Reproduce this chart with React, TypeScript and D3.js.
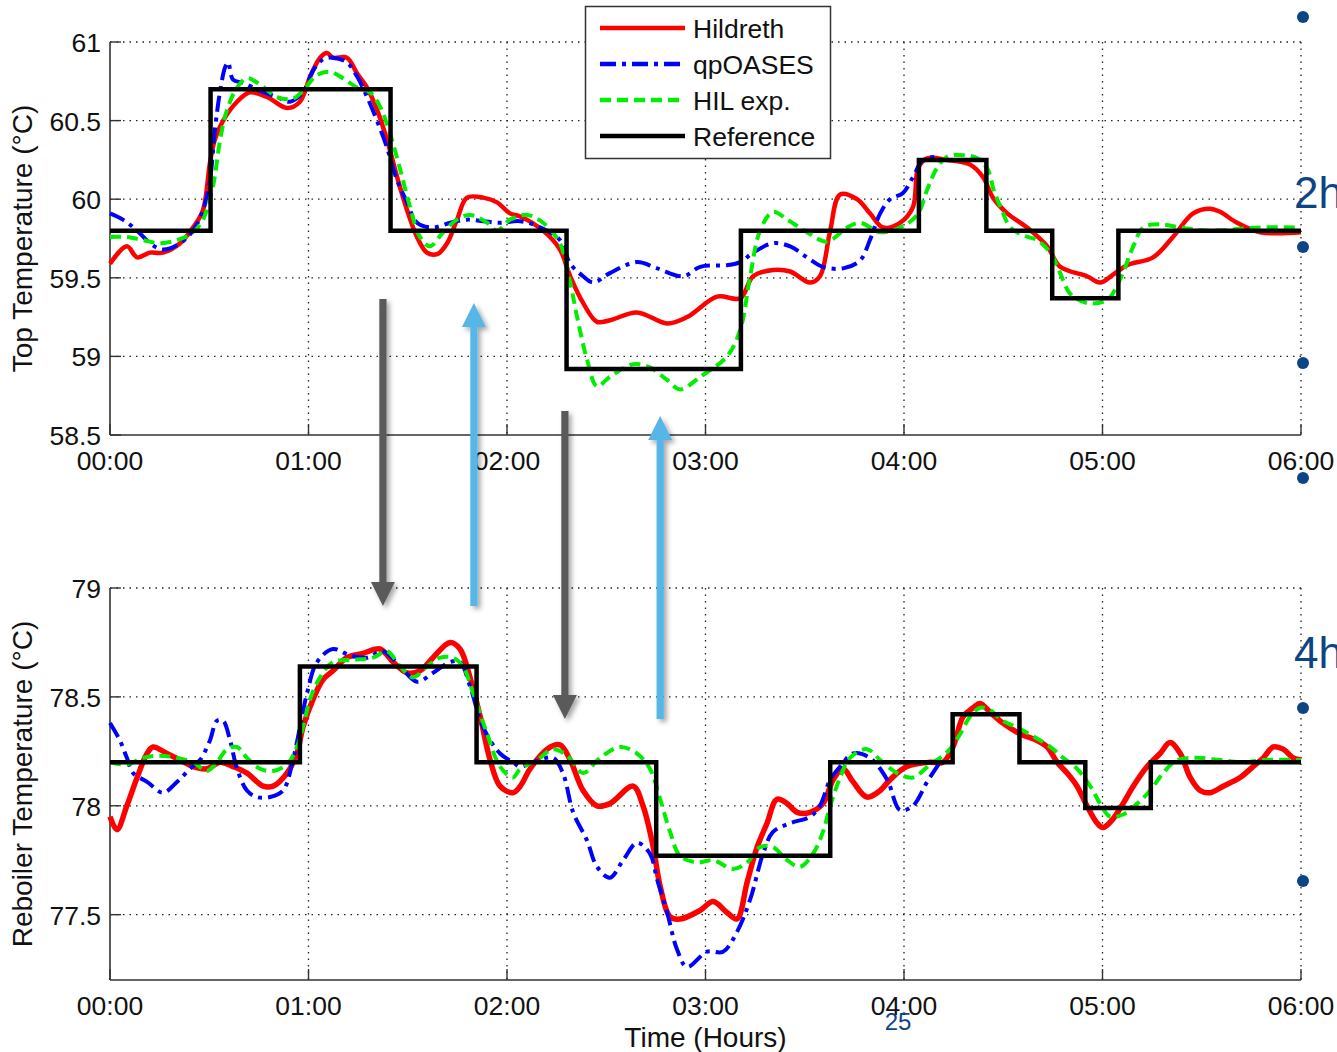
import React from 'react';
import * as d3 from 'd3';

// ---- data (time in minutes since 00:00, temperature in °C) ----
const hourTicks = [0, 60, 120, 180, 240, 300, 360];
const hourLabels = ['00:00', '01:00', '02:00', '03:00', '04:00', '05:00', '06:00'];
const topTicks = [58.5, 59, 59.5, 60, 60.5, 61];
const topTickLabels = ['58.5', '59', '59.5', '60', '60.5', '61'];
const bottomTicks = [77.5, 78, 78.5, 79];
const bottomTickLabels = ['77.5', '78', '78.5', '79'];

const seriesNames = ['Hildreth', 'qpOASES', 'HIL exp.', 'Reference'];

// Set-point steps: change times and the level held from each time on
const topRefTimes = [0, 30.4, 84.8, 138, 190.7, 244.5, 264.9, 284.8, 304.8, 360];
const topRefLevels = [59.8, 60.7, 59.8, 58.92, 59.8, 60.25, 59.8, 59.37, 59.8, 59.8];
const bottomRefTimes = [0, 57.4, 110.8, 165.1, 217.7, 254.7, 274.9, 294.8, 314.6, 360];
const bottomRefLevels = [78.2, 78.64, 78.2, 77.77, 78.2, 78.42, 78.2, 77.99, 78.2, 78.2];

type Pt = [number, number];

const topHildreth: Pt[] = [
  [0, 59.59], [5.1, 59.7], [8.2, 59.63], [12.1, 59.66], [16, 59.66], [21.2, 59.72], [25.1, 59.82],
  [28.1, 59.93], [30.2, 60.23], [31.7, 60.38], [34.2, 60.5], [38.4, 60.62], [42.3, 60.68], [47.5, 60.65],
  [53.5, 60.58], [57.4, 60.62], [60.5, 60.78], [63.5, 60.9], [65.6, 60.93], [67.4, 60.9], [71.6, 60.9],
  [74.7, 60.8], [77.7, 60.71], [80.7, 60.57], [83.7, 60.38], [86.8, 60.14], [89.8, 59.93], [92.8, 59.76],
  [95.8, 59.66], [98.9, 59.65], [101.9, 59.72], [104.9, 59.87], [107.9, 60.01], [112.8, 60.01],
  [117, 59.98], [120.9, 59.91], [124, 59.89], [130.9, 59.8], [136, 59.68], [139.1, 59.51], [143, 59.34],
  [147.2, 59.22], [151.1, 59.23], [159.3, 59.28], [168.4, 59.21], [174.4, 59.25], [183.5, 59.38],
  [190.5, 59.37], [194.4, 59.51], [200.4, 59.55], [205.6, 59.54], [211.6, 59.47], [214.6, 59.51],
  [217.6, 59.79], [220.7, 60.03], [225.8, 60.0], [229.7, 59.91], [233.7, 59.82], [238.8, 59.85],
  [242.7, 59.95], [244.3, 60.2], [247, 60.26], [253, 60.25], [260, 60.22], [263.9, 60.14], [266.9, 60.01],
  [271.2, 59.91], [277.2, 59.82], [283.3, 59.7], [287.2, 59.57], [295.3, 59.51], [299.3, 59.47],
  [303.2, 59.52], [307.4, 59.58], [315.3, 59.63], [321.3, 59.76], [327.4, 59.91], [332.5, 59.94],
  [335.5, 59.92], [340.7, 59.85], [347.6, 59.79], [360, 59.79],
];

const topQpOases: Pt[] = [
  [0, 59.91], [3.9, 59.87], [8.2, 59.8], [12.1, 59.72], [16, 59.68], [21.2, 59.72], [25.1, 59.8],
  [28.1, 59.93], [30.2, 60.12], [31.7, 60.44], [33.3, 60.69], [34.8, 60.84], [35.7, 60.87], [37.2, 60.76],
  [40.2, 60.74], [45.3, 60.69], [50.5, 60.65], [54.4, 60.62], [58.3, 60.68], [61.4, 60.82], [64.4, 60.89],
  [67.4, 60.9], [71.6, 60.87], [74.7, 60.78], [77.7, 60.65], [80.7, 60.5], [83.7, 60.33], [86.8, 60.12],
  [89.8, 59.98], [92.8, 59.85], [97.6, 59.82], [102.8, 59.85], [107.9, 59.87], [112.8, 59.86],
  [117.9, 59.85], [124, 59.86], [130.1, 59.82], [136, 59.74], [139.1, 59.59], [143, 59.51], [146.1, 59.47],
  [151.1, 59.53], [159.3, 59.6], [165.4, 59.56], [173.3, 59.51], [178.4, 59.57], [186.5, 59.58],
  [190.5, 59.6], [194.4, 59.66], [200.4, 59.72], [205.6, 59.7], [210.7, 59.63], [215.5, 59.57],
  [221.6, 59.56], [226.7, 59.61], [229.7, 59.74], [232.8, 59.91], [235.8, 60.0], [239.7, 60.04],
  [242.7, 60.14], [245.8, 60.25], [250, 60.27],
];

const topHil: Pt[] = [
  [0, 59.76], [5.1, 59.76], [10, 59.74], [15.1, 59.72], [20.3, 59.74], [25.1, 59.79], [28.1, 59.87],
  [31.1, 60.08], [33.3, 60.38], [35.4, 60.57], [38.4, 60.71], [41.4, 60.77], [45.3, 60.73], [50.5, 60.65],
  [55.3, 60.64], [58.3, 60.69], [62.6, 60.79], [66.5, 60.81], [70.4, 60.77], [74.7, 60.71], [78.6, 60.68],
  [81.6, 60.59], [84.6, 60.42], [87.7, 60.19], [90.7, 59.95], [93.7, 59.76], [96.7, 59.7], [100.7, 59.79],
  [104.9, 59.87], [108.8, 59.9], [114, 59.85], [117, 59.8], [120.9, 59.87], [126.1, 59.9], [130.9, 59.85],
  [136, 59.72], [139.1, 59.47], [141.2, 59.25], [144.2, 58.98], [147.2, 58.81], [151.1, 58.87],
  [158.1, 58.95], [163.2, 58.93], [168.4, 58.85], [172.3, 58.79], [178.4, 58.87], [186.5, 59.0],
  [190.5, 59.17], [193.5, 59.51], [196.5, 59.8], [200.4, 59.92], [204.7, 59.87], [210.7, 59.79],
  [216.7, 59.73], [222.8, 59.82], [226.7, 59.85], [232.8, 59.79], [238.8, 59.82], [244, 59.9],
  [247, 60.06], [250, 60.2], [253, 60.27], [258, 60.28], [262.2, 60.26], [265.3, 60.19], [267.1, 60.06],
  [269.2, 59.95], [272.2, 59.82], [276, 59.77], [280.2, 59.74], [284.2, 59.66], [287.2, 59.53],
  [290.2, 59.4], [295.3, 59.34], [301.4, 59.36], [305.3, 59.49], [309.3, 59.7], [312.3, 59.82],
  [317.4, 59.84], [323.5, 59.82], [331.6, 59.8], [347.6, 59.82], [360, 59.82],
];

const bottomHildreth: Pt[] = [
  [0, 77.95], [2.1, 77.89], [5.1, 78.0], [8.2, 78.13], [11.2, 78.24], [13, 78.27], [17.2, 78.24],
  [21.2, 78.21], [25.1, 78.18], [29.3, 78.17], [33.3, 78.2], [37.2, 78.18], [41.4, 78.15], [46.3, 78.09],
  [49.3, 78.09], [53.5, 78.15], [56.5, 78.24], [58.3, 78.36], [61.4, 78.49], [64.4, 78.58], [67.4, 78.62],
  [71.6, 78.68], [76.5, 78.7], [81.6, 78.72], [85.6, 78.66], [89.8, 78.61], [93.7, 78.62], [97.6, 78.68],
  [102.8, 78.75], [105.8, 78.72], [108.8, 78.59], [111.9, 78.41], [114.9, 78.21], [117.9, 78.09],
  [121.8, 78.06], [124, 78.09], [127, 78.17], [132.1, 78.26], [136, 78.28], [139.1, 78.21], [143, 78.07],
  [147.2, 78.0], [151.1, 78.01], [158.1, 78.09], [161.1, 78.0], [164.2, 77.81], [166.3, 77.63],
  [169.3, 77.49], [172.3, 77.48], [178.4, 77.52], [182.3, 77.56], [186.5, 77.51], [189.5, 77.48],
  [192.6, 77.65], [195.6, 77.81], [198.6, 77.92], [201.6, 78.03], [204.7, 78.01], [207.7, 77.97],
  [211.6, 77.97], [215.5, 78.01], [218.6, 78.12], [221.6, 78.17], [224.6, 78.11], [228.8, 78.04],
  [232.8, 78.07], [235.8, 78.12], [240.9, 78.18], [247.9, 78.2], [251.8, 78.2], [254.8, 78.27],
  [257.9, 78.41], [260.9, 78.45], [263, 78.47], [266, 78.43], [269.9, 78.38], [275.1, 78.33],
  [280.2, 78.3], [283.3, 78.27], [286.3, 78.2], [289.3, 78.15], [292.3, 78.09], [295.3, 78.0],
  [298.4, 77.92], [300.2, 77.9], [303.2, 77.94], [306.2, 78.01], [309.3, 78.09], [313.5, 78.18],
  [317.4, 78.24], [320.4, 78.29], [323.5, 78.24], [326.5, 78.13], [329.5, 78.07], [332.5, 78.06],
  [336.5, 78.09], [341.6, 78.13], [345.5, 78.18], [348.6, 78.22], [351.6, 78.27], [354.6, 78.26],
  [357.6, 78.22], [360, 78.21],
];

const bottomQpOases: Pt[] = [
  [0, 78.38], [3, 78.3], [5.1, 78.22], [7, 78.15], [11.2, 78.11], [16, 78.06], [20.3, 78.11],
  [24.2, 78.17], [27.2, 78.21], [30.2, 78.3], [32.3, 78.39], [34.2, 78.39], [36.3, 78.3], [38.4, 78.17],
  [41.4, 78.07], [44.4, 78.04], [48.4, 78.04], [52.3, 78.07], [55.3, 78.21], [57.4, 78.36], [59.6, 78.52],
  [62.6, 78.66], [67.4, 78.72], [72.6, 78.69], [77.7, 78.68], [82.5, 78.71], [87.7, 78.64], [92.8, 78.57],
  [97.6, 78.61], [102.8, 78.66], [105.8, 78.66], [108.8, 78.55], [112.8, 78.36], [117.9, 78.24],
  [121.8, 78.2], [124, 78.18], [127.9, 78.2], [133.9, 78.22], [136.9, 78.15], [140, 77.97], [144.2, 77.84],
  [147.2, 77.72], [151.1, 77.67], [155.1, 77.75], [159.3, 77.83], [163.2, 77.78], [165.4, 77.66],
  [168.4, 77.51], [171.4, 77.34], [174.4, 77.26], [180.5, 77.33], [185.3, 77.33], [189.5, 77.42],
  [193.5, 77.57], [197.4, 77.78], [200.4, 77.88], [205.6, 77.92], [211.6, 77.95], [214.6, 78.0],
  [217.7, 78.12], [220.7, 78.18], [224.6, 78.24], [229.7, 78.22], [234.9, 78.12], [238.8, 77.98],
  [242.7, 78.0], [247, 78.11], [250.9, 78.2],
];

const bottomHil: Pt[] = [
  [0, 78.2], [5.1, 78.19], [10, 78.22], [15.1, 78.23], [20.3, 78.22], [25.1, 78.2], [29.3, 78.16],
  [32.3, 78.2], [35.4, 78.26], [38.4, 78.27], [41.4, 78.22], [45.3, 78.17], [49.3, 78.16], [53.5, 78.19],
  [56.5, 78.27], [58.3, 78.36], [60.5, 78.49], [63.5, 78.59], [67.4, 78.66], [73.5, 78.67], [79.5, 78.68],
  [83.7, 78.71], [87.7, 78.64], [91.6, 78.59], [95.8, 78.64], [99.8, 78.68], [103.7, 78.68],
  [106.7, 78.64], [109.7, 78.52], [114, 78.33], [117.9, 78.18], [121.8, 78.13], [124, 78.17],
  [129.1, 78.21], [133.9, 78.26], [138.2, 78.23], [143, 78.15], [148.1, 78.22], [154.2, 78.27],
  [159.3, 78.24], [163.2, 78.17], [166.3, 78.03], [169.3, 77.88], [172.3, 77.77], [177.5, 77.74],
  [182.3, 77.75], [188.3, 77.71], [192.6, 77.74], [196.5, 77.81], [200.4, 77.81], [204.7, 77.75],
  [208.6, 77.72], [212.5, 77.78], [215.5, 77.88], [217.7, 78.0], [220.7, 78.13], [223.7, 78.22],
  [228.8, 78.26], [232.8, 78.21], [237.9, 78.15], [242.7, 78.13], [247.9, 78.19], [250.9, 78.22],
  [253.9, 78.26], [257, 78.33], [260, 78.41], [263, 78.45], [266, 78.44], [269.9, 78.39], [274.2, 78.36],
  [279, 78.32], [284.2, 78.27], [288.1, 78.22], [292.3, 78.17], [296.3, 78.09], [299.3, 78.01],
  [302.3, 77.95], [306.2, 77.96], [310.5, 78.01], [314.4, 78.07], [318.3, 78.15], [322.6, 78.21],
  [328.6, 78.22], [335.6, 78.21], [342.5, 78.2], [348.6, 78.21], [360, 78.21],
];

// ---- layout ----
const W = 1337;
const H = 1052;
const X0 = 110;
const X1 = 1301;
const FONT = "'Liberation Sans', Arial, Helvetica, sans-serif";
const NAVY = '#0d4584';
const TICK_FONT = 26.5;
const TITLE_FONT = 28;

const colors = { hildreth: '#ff0000', qp: '#0000ff', hil: '#00ee00', ref: '#000000' };
const dashQp = '16,6,4,6';
const dashHil = '11,6';

const x = d3.scaleLinear().domain([0, 360]).range([X0, X1]);

type PanelProps = {
  yDomain: [number, number];
  yRange: [number, number];
  ticks: number[];
  tickLabels: string[];
  title: string;
  hildreth: Pt[];
  qp: Pt[];
  hil: Pt[];
  refTimes: number[];
  refLevels: number[];
  redWidth: number;
};

function Panel(p: PanelProps) {
  const y = d3.scaleLinear().domain(p.yDomain).range(p.yRange);
  const [yBottom, yTop] = p.yRange;
  const line = d3
    .line<Pt>()
    .x((d) => x(d[0]))
    .y((d) => y(d[1]))
    .curve(d3.curveCatmullRom.alpha(0.5));
  const step = d3
    .line<Pt>()
    .x((d) => x(d[0]))
    .y((d) => y(d[1]))
    .curve(d3.curveStepAfter);
  const refPts: Pt[] = p.refTimes.map((t, i) => [t, p.refLevels[i]]);
  const titleY = (yBottom + yTop) / 2;

  return (
    <g>
      {/* dotted grid */}
      {p.ticks
        .filter((t) => y(t) < yBottom - 1)
        .map((t) => (
          <line key={'gy' + t} x1={X0} x2={X1} y1={y(t)} y2={y(t)} stroke="#222" strokeWidth={1.3} strokeDasharray="1.5,5" />
        ))}
      {hourTicks
        .filter((t) => t > 0)
        .map((t) => (
          <line key={'gx' + t} x1={x(t)} x2={x(t)} y1={yTop} y2={yBottom} stroke="#222" strokeWidth={1.3} strokeDasharray="1.5,5" />
        ))}

      {/* axes */}
      <line x1={X0} x2={X0} y1={yTop} y2={yBottom} stroke="#333" strokeWidth={1.6} />
      <line x1={X0} x2={X1} y1={yBottom} y2={yBottom} stroke="#333" strokeWidth={1.6} />
      {p.ticks.map((t) => (
        <line key={'ty' + t} x1={X0} x2={X0 + 11} y1={y(t)} y2={y(t)} stroke="#333" strokeWidth={1.4} />
      ))}
      {hourTicks.map((t) => (
        <line key={'tx' + t} x1={x(t)} x2={x(t)} y1={yBottom} y2={yBottom - 11} stroke="#333" strokeWidth={1.4} />
      ))}
      {p.ticks.map((t, i) => (
        <text key={'ly' + t} x={X0 - 9} y={y(t) + 10} textAnchor="end" fontSize={TICK_FONT} fontFamily={FONT} fill="#111">
          {p.tickLabels[i]}
        </text>
      ))}
      {hourTicks.map((t, i) => (
        <text key={'lx' + t} x={x(t)} y={yBottom + 35} textAnchor="middle" fontSize={TICK_FONT} fontFamily={FONT} fill="#111">
          {hourLabels[i]}
        </text>
      ))}
      <text
        transform={`translate(32,${titleY}) rotate(-90)`}
        textAnchor="middle"
        fontSize={TITLE_FONT}
        fontFamily={FONT}
        fill="#111"
      >
        {p.title}
      </text>

      {/* series */}
      <path d={line(p.hildreth) || ''} fill="none" stroke={colors.hildreth} strokeWidth={p.redWidth} strokeLinejoin="round" />
      <path d={line(p.qp) || ''} fill="none" stroke={colors.qp} strokeWidth={4} strokeDasharray={dashQp} />
      <path d={line(p.hil) || ''} fill="none" stroke={colors.hil} strokeWidth={4} strokeDasharray={dashHil} />
      <path d={step(refPts) || ''} fill="none" stroke={colors.ref} strokeWidth={4.5} strokeLinejoin="miter" />
    </g>
  );
}

// Annotation arrows linking the two panels (x in minutes, y in page pixels)
const arrows = [
  { t: 82.5, from: 299, to: 606, color: '#5a5a5a' },
  { t: 110.0, from: 606, to: 303, color: '#56b6e8' },
  { t: 137.5, from: 411, to: 719, color: '#5a5a5a' },
  { t: 166.3, from: 719, to: 416, color: '#56b6e8' },
];

function Arrow({ t, from, to, color }: { t: number; from: number; to: number; color: string }) {
  const cx = x(t);
  const dir = to > from ? 1 : -1;
  const headLen = 24;
  const half = 3.6;
  const headHalf = 12;
  const base = to - dir * headLen;
  const d = [
    `M${cx - half},${from}`,
    `L${cx + half},${from}`,
    `L${cx + half},${base}`,
    `L${cx + headHalf},${base}`,
    `L${cx},${to}`,
    `L${cx - headHalf},${base}`,
    `L${cx - half},${base}`,
    'Z',
  ].join(' ');
  return <path d={d} fill={color} filter="url(#arrowShadow)" />;
}

const legendItems = [
  { name: seriesNames[0], color: colors.hildreth, dash: undefined as string | undefined },
  { name: seriesNames[1], color: colors.qp, dash: dashQp },
  { name: seriesNames[2], color: colors.hil, dash: dashHil },
  { name: seriesNames[3], color: colors.ref, dash: undefined as string | undefined },
];

const sideDots = [17, 247, 363, 478, 708, 881];

export default function App() {
  return (
    <svg
      width={W}
      height={H}
      viewBox={`0 0 ${W} ${H}`}
      style={{ position: 'absolute', left: 0, top: 0, background: '#fff' }}
    >
      <defs>
        <filter id="arrowShadow" x="-50%" y="-10%" width="200%" height="120%">
          <feDropShadow dx="3" dy="3" stdDeviation="2.5" floodColor="#000" floodOpacity="0.35" />
        </filter>
      </defs>
      <rect x={0} y={0} width={W} height={H} fill="#fff" />

      <Panel
        yDomain={[58.5, 61]}
        yRange={[435, 42]}
        ticks={topTicks}
        tickLabels={topTickLabels}
        title="Top Temperature (°C)"
        hildreth={topHildreth}
        qp={topQpOases}
        hil={topHil}
        refTimes={topRefTimes}
        refLevels={topRefLevels}
        redWidth={4.5}
      />
      <Panel
        yDomain={[77.2, 79]}
        yRange={[980, 588]}
        ticks={bottomTicks}
        tickLabels={bottomTickLabels}
        title="Reboiler Temperature (°C)"
        hildreth={bottomHildreth}
        qp={bottomQpOases}
        hil={bottomHil}
        refTimes={bottomRefTimes}
        refLevels={bottomRefLevels}
        redWidth={5.5}
      />

      <text x={x(180)} y={1047} textAnchor="middle" fontSize={TITLE_FONT} fontFamily={FONT} fill="#111">
        Time (Hours)
      </text>

      {/* legend */}
      <g>
        <rect x={585.5} y={6.5} width={245} height={152} fill="#fff" stroke="#333" strokeWidth={1.5} />
        {legendItems.map((it, i) => {
          const ly = 28 + i * 36;
          return (
            <g key={it.name}>
              <line x1={600} x2={685} y1={ly} y2={ly} stroke={it.color} strokeWidth={4.5} strokeDasharray={it.dash} />
              <text x={693} y={ly + 10} fontSize={TICK_FONT} fontFamily={FONT} fill="#111">
                {it.name}
              </text>
            </g>
          );
        })}
      </g>

      {arrows.map((a, i) => (
        <Arrow key={i} {...a} />
      ))}

      {/* slide decorations on the right edge */}
      {sideDots.map((cy) => (
        <circle key={cy} cx={1303} cy={cy} r={6} fill={NAVY} />
      ))}
      <text x={1294} y={208} fontSize={44} fontFamily={FONT} fill={NAVY}>
        2h
      </text>
      <text x={1294} y={668} fontSize={44} fontFamily={FONT} fill={NAVY}>
        4h
      </text>
      <text x={898} y={1030} textAnchor="middle" fontSize={24} fontFamily={FONT} fill={NAVY}>
        25
      </text>
    </svg>
  );
}
